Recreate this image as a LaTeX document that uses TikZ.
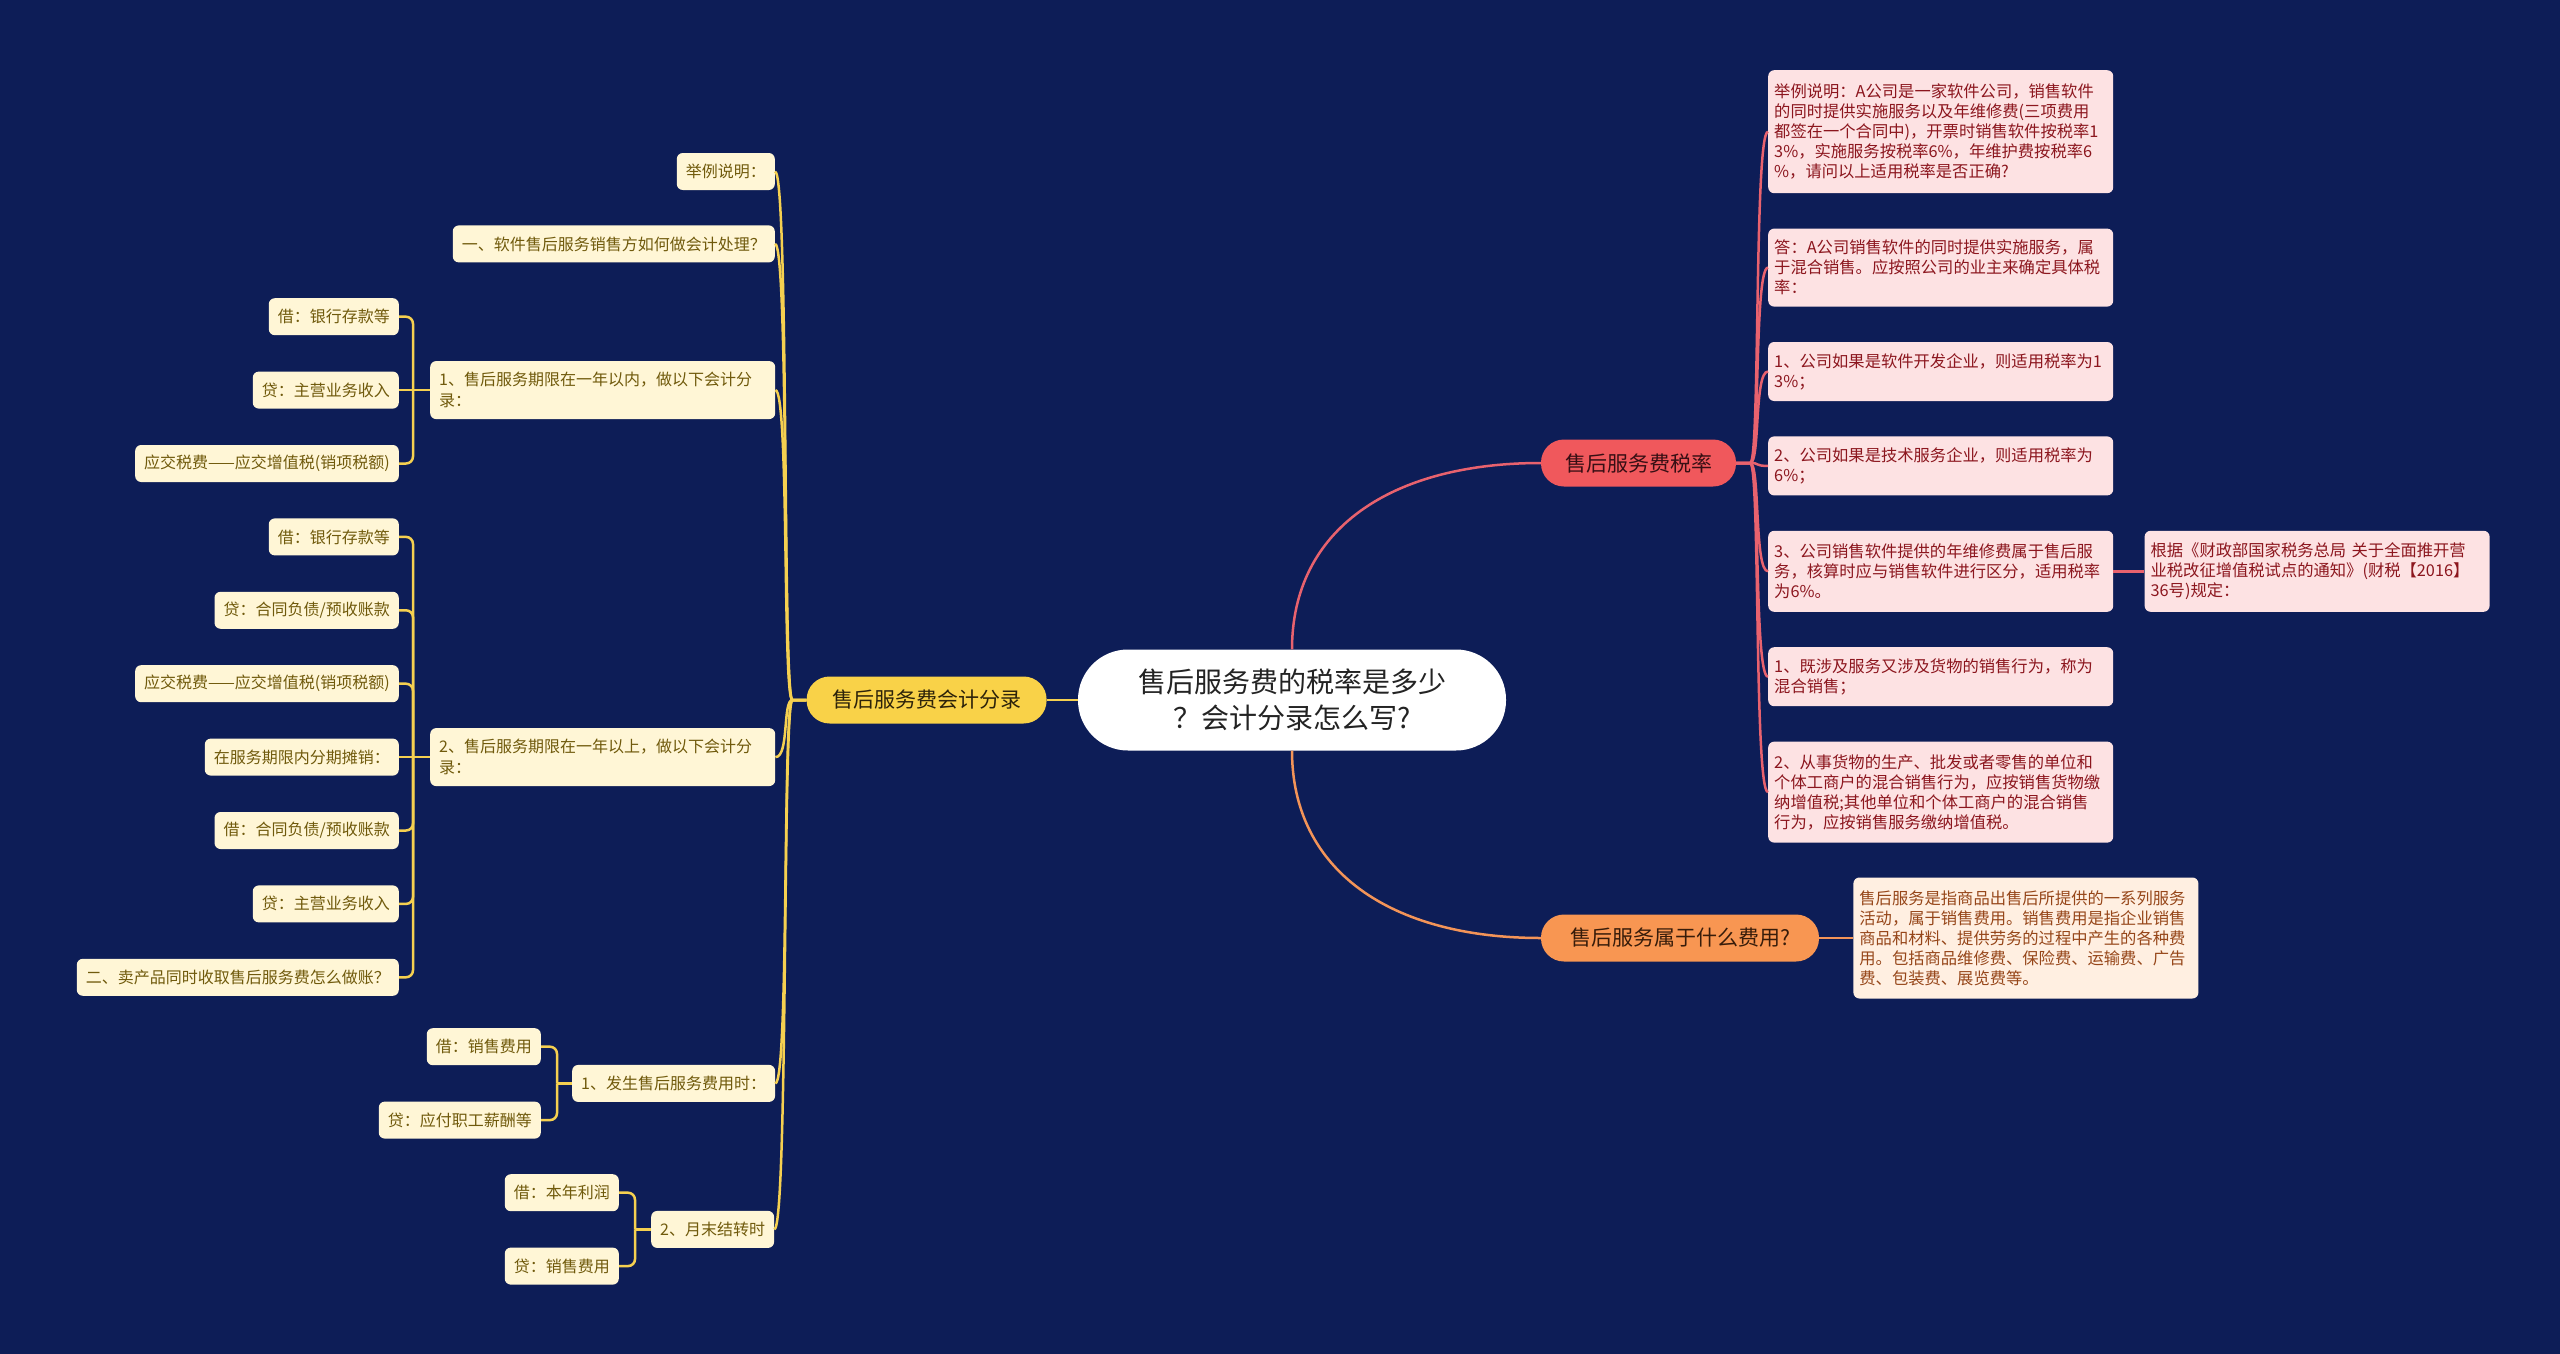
\documentclass[tikz,border=0pt]{standalone}
\usepackage{fontspec}
\setmainfont{Noto Sans CJK SC}
\usetikzlibrary{positioning, calc}

\definecolor{bgnavy}{RGB}{13,29,87}
\definecolor{hubtext}{RGB}{35,35,35}
\definecolor{acctfill}{RGB}{249,210,72}
\definecolor{accttext}{RGB}{45,35,10}
\definecolor{ratefill}{RGB}{240,88,92}
\definecolor{ratetext}{RGB}{55,15,20}
\definecolor{kindfill}{RGB}{248,150,82}
\definecolor{kindtext}{RGB}{55,28,10}
\definecolor{leafcream}{RGB}{255,246,214}
\definecolor{leaftext}{RGB}{112,90,12}
\definecolor{leafpink}{RGB}{253,226,227}
\definecolor{pinktext}{RGB}{140,22,30}
\definecolor{leafpeach}{RGB}{255,239,225}
\definecolor{peachtext}{RGB}{150,70,25}
\definecolor{ylinecol}{RGB}{245,208,80}
\definecolor{rlinecol}{RGB}{232,98,110}
\definecolor{olinecol}{RGB}{243,148,88}

\begin{document}
\begin{tikzpicture}[
  x=1pt, y=-1pt,
  hub/.style={
    fill=white, text=hubtext, rounded corners=50pt, align=center,
    minimum width=428pt, minimum height=101pt, font=\fontsize{28}{36}\selectfont
  },
  branch/.style={
    rounded corners=23pt, minimum height=47pt, font=\fontsize{21}{25}\selectfont
  },
  lleaf/.style={
    fill=leafcream, text=leaftext, rounded corners=6pt, align=left,
    minimum height=37pt, inner xsep=9pt, font=\fontsize{16}{21.5}\selectfont
  },
  rleaf/.style={
    fill=leafpink, text=pinktext, rounded corners=6pt, align=left,
    text width=333pt, inner xsep=6pt, font=\fontsize{16.3}{20}\selectfont
  },
  yline/.style={draw=ylinecol, line width=2.5pt},
  rline/.style={draw=rlinecol, line width=2.5pt},
  oline/.style={draw=olinecol, line width=2.5pt},
]
\useasboundingbox (0,0) rectangle (2560,1354);
\fill[bgnavy] (0,0) rectangle (2560,1354);

% Centre topic and the three branches
\node[hub] (topic) at (1292,700) {售后服务费的税率是多少\\？会计分录怎么写?};
\node[branch, fill=acctfill, text=accttext, minimum width=240pt, left=31pt of topic] (acct) {售后服务费会计分录};
\node[branch, fill=ratefill, text=ratetext, minimum width=195pt] (rate) at (1638.5,463) {售后服务费税率};
\node[branch, fill=kindfill, text=kindtext, minimum width=278pt] (kind) at (1680,938) {售后服务属于什么费用?};

% Right side: tax-rate notes, stacked top to bottom
\node[rleaf, minimum height=123pt, anchor=north west] (example) at (1768,70)
  {举例说明：A公司是一家软件公司，销售软件\\的同时提供实施服务以及年维修费(三项费用\\都签在一个合同中)，开票时销售软件按税率1\\3\%，实施服务按税率6\%，年维护费按税率6\\\%，请问以上适用税率是否正确?};
\node[rleaf, minimum height=78pt, below=35pt of example] (answer)
  {答：A公司销售软件的同时提供实施服务，属\\于混合销售。应按照公司的业主来确定具体税\\率：};
\node[rleaf, minimum height=59pt, below=35pt of answer] (softdev)
  {1、公司如果是软件开发企业，则适用税率为1\\3\%；};
\node[rleaf, minimum height=59pt, below=35pt of softdev] (techsvc)
  {2、公司如果是技术服务企业，则适用税率为\\6\%；};
\node[rleaf, minimum height=81pt, below=35pt of techsvc] (upkeep)
  {3、公司销售软件提供的年维修费属于售后服\\务，核算时应与销售软件进行区分，适用税率\\为6\%。};
\node[rleaf, minimum height=81pt, right=31pt of upkeep] (notice)
  {根据《财政部国家税务总局 关于全面推开营\\业税改征增值税试点的通知》(财税【2016】\\36号)规定：};
\node[rleaf, minimum height=59pt, below=35pt of upkeep] (mixed)
  {1、既涉及服务又涉及货物的销售行为，称为\\混合销售；};
\node[rleaf, minimum height=101pt, below=35pt of mixed] (mixedtax)
  {2、从事货物的生产、批发或者零售的单位和\\个体工商户的混合销售行为，应按销售货物缴\\纳增值税;其他单位和个体工商户的混合销售\\行为，应按销售服务缴纳增值税。};
\node[rleaf, fill=leafpeach, text=peachtext, minimum height=121pt, right=34pt of kind] (meaning)
  {售后服务是指商品出售后所提供的一系列服务\\活动，属于销售费用。销售费用是指企业销售\\商品和材料、提供劳务的过程中产生的各种费\\用。包括商品维修费、保险费、运输费、广告\\费、包装费、展览费等。};

% Left side: accounting entries
\node[lleaf, anchor=east] (ex) at (775,171.5) {举例说明：};
\node[lleaf, below=35pt of ex.south east, anchor=north east] (q1) {一、软件售后服务销售方如何做会计处理？};

\node[lleaf, anchor=north east] (w-dr) at (399,298) {借：银行存款等};
\node[lleaf, below=36pt of w-dr.south east, anchor=north east] (w-cr) {贷：主营业务收入};
\node[lleaf, below=36pt of w-cr.south east, anchor=north east] (w-tax) {应交税费——应交增值税(销项税额)};
\node[lleaf, text width=327pt, minimum height=58pt, right=31pt of w-cr] (within) {1、售后服务期限在一年以内，做以下会计分\\录：};

\node[lleaf, below=36pt of w-tax.south east, anchor=north east] (b-dr) {借：银行存款等};
\node[lleaf, below=36pt of b-dr.south east, anchor=north east] (b-cr) {贷：合同负债/预收账款};
\node[lleaf, below=36pt of b-cr.south east, anchor=north east] (b-tax) {应交税费——应交增值税(销项税额)};
\node[lleaf, below=36pt of b-tax.south east, anchor=north east] (b-amort) {在服务期限内分期摊销：};
\node[lleaf, below=36pt of b-amort.south east, anchor=north east] (b-dr2) {借：合同负债/预收账款};
\node[lleaf, below=36pt of b-dr2.south east, anchor=north east] (b-cr2) {贷：主营业务收入};
\node[lleaf, below=36pt of b-cr2.south east, anchor=north east] (q2) {二、卖产品同时收取售后服务费怎么做账？};
\node[lleaf, text width=327pt, minimum height=58pt, right=31pt of b-amort] (beyond) {2、售后服务期限在一年以上，做以下会计分\\录：};

\node[lleaf, anchor=north east] (i-dr) at (541,1028) {借：销售费用};
\node[lleaf, below=36pt of i-dr.south east, anchor=north east] (i-cr) {贷：应付职工薪酬等};
\node[lleaf, anchor=west] (incur) at ($(i-dr.east)!0.5!(i-cr.east)+(31,0)$) {1、发生售后服务费用时：};

\node[lleaf, anchor=north east] (c-dr) at (619,1174) {借：本年利润};
\node[lleaf, below=36pt of c-dr.south east, anchor=north east] (c-cr) {贷：销售费用};
\node[lleaf, anchor=west] (monthend) at ($(c-dr.east)!0.5!(c-cr.east)+(32,0)$) {2、月末结转时};

% Yellow connectors
\draw[yline] (topic) -- (acct);
\foreach \kid in {ex, q1, within, beyond, incur, monthend}
  \draw[yline] (acct.west) -- ++(-14,0) .. controls +(-10,0) and +(14,0) .. (\kid.east);

\coordinate (within-j) at ($(within.west)+(-17,0)$);
\draw[yline] (within) -- (w-cr);
\foreach \kid in {w-dr, w-tax}
  \draw[yline, rounded corners=7pt] (within-j) |- (\kid.east);

\coordinate (beyond-j) at ($(beyond.west)+(-17,0)$);
\draw[yline] (beyond) -- (b-amort);
\foreach \kid in {b-dr, b-cr, b-tax, b-dr2, b-cr2, q2}
  \draw[yline, rounded corners=7pt] (beyond-j) |- (\kid.east);

\coordinate (incur-j) at ($(incur.west)+(-15,0)$);
\draw[yline] (incur.west) -- (incur-j);
\foreach \kid in {i-dr, i-cr}
  \draw[yline, rounded corners=7pt] (incur-j) |- (\kid.east);

\coordinate (monthend-j) at ($(monthend.west)+(-16,0)$);
\draw[yline] (monthend.west) -- (monthend-j);
\foreach \kid in {c-dr, c-cr}
  \draw[yline, rounded corners=7pt] (monthend-j) |- (\kid.east);

% Red and orange connectors
\draw[rline] (topic.north) .. controls +(0,-120) and +(-150,0) .. (rate.west);
\foreach \kid in {example, answer, softdev, techsvc, upkeep, mixed, mixedtax}
  \draw[rline] (rate.east) -- ++(14,0) .. controls +(10,0) and +(-14,0) .. (\kid.west);
\draw[rline] (upkeep) -- (notice);

\draw[oline] (topic.south) .. controls +(0,120) and +(-150,0) .. (kind.west);
\draw[oline] (kind) -- (meaning);

\end{tikzpicture}
\end{document}
